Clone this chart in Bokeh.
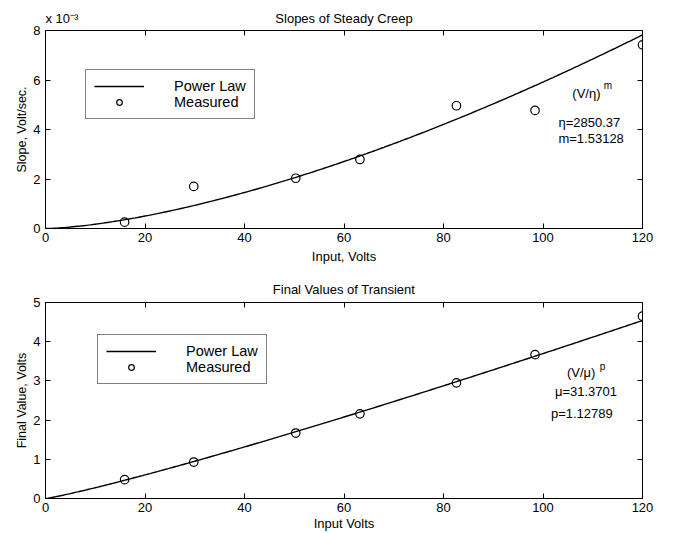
import numpy as np
from bokeh.plotting import figure
from bokeh.layouts import column
from bokeh.models import (Label, Legend, LegendItem, LinearAxis, FixedTicker,
                          CustomJSTickFormatter, Range1d)
from bokeh.embed import file_html
from bokeh.resources import INLINE

# ---- data -------------------------------------------------------------
input_volts = [15.9, 29.8, 50.3, 63.2, 82.6, 98.4, 120.0]
creep_slope = [0.255e-3, 1.70e-3, 2.03e-3, 2.79e-3, 4.96e-3, 4.77e-3, 7.42e-3]
final_value = [0.48, 0.93, 1.67, 2.16, 2.95, 3.67, 4.65]

# fitted power-law parameters
eta, m_exp = 2850.37, 1.53128
mu, p_exp = 31.3701, 1.12789

x_ticks = [0, 20, 40, 60, 80, 100, 120]
creep_ticks = [0, 2e-3, 4e-3, 6e-3, 8e-3]
final_ticks = [0, 1, 2, 3, 4, 5]

# header line of the upper panel: exponent note at the left, title centred
header_pos = [3.3, 60]
header_text = ["x 10\u207b\u00b3", "Slopes of Steady Creep"]

FONT = "Liberation Sans"
fit_v = np.linspace(0, 120, 241)


def style_axis(ax, labelled, standoff):
    ax.axis_line_color = "black"
    ax.major_tick_in = 5
    ax.major_tick_out = 0
    ax.major_tick_line_color = "black"
    ax.minor_tick_line_color = None
    ax.major_label_text_font = FONT
    ax.major_label_text_color = "black"
    ax.axis_label_text_font = FONT
    ax.axis_label_text_font_style = "normal"
    ax.axis_label_text_font_size = "13px"
    ax.axis_label_text_color = "black"
    if labelled:
        ax.major_label_text_font_size = "13px"
        ax.major_label_standoff = standoff
    else:
        # tick marks only: labels are not painted
        ax.major_label_text_font_size = "1px"
        ax.major_label_text_color = None
        ax.major_label_standoff = 0


def base_figure(height, top, bottom, y_max, y_ticks, title, xlabel, ylabel,
                tick_gap, label_gap):
    p = figure(width=675, height=height, output_backend="svg",
               toolbar_location=None, x_range=Range1d(0, 120),
               y_range=Range1d(0, y_max), x_axis_location=None,
               y_axis_location=None, min_border_left=45,
               min_border_right=33, min_border_top=top,
               min_border_bottom=bottom, title=title)
    if p.title is not None:
        p.title.text_font = FONT
        p.title.text_font_size = "13px"
        p.title.text_font_style = "normal"
        p.title.text_color = "black"
        p.title.align = "center"
        p.title.standoff = 11
    p.xgrid.visible = False
    p.ygrid.visible = False
    p.outline_line_color = "black"
    p.outline_line_width = 1
    p.background_fill_color = "white"
    p.border_fill_color = "white"

    bx = LinearAxis(ticker=FixedTicker(ticks=x_ticks), axis_label=xlabel)
    style_axis(bx, True, tick_gap)
    bx.axis_label_standoff = label_gap
    p.add_layout(bx, "below")
    tx = LinearAxis(ticker=FixedTicker(ticks=x_ticks))
    style_axis(tx, False, 0)
    p.add_layout(tx, "above")
    ly = LinearAxis(ticker=FixedTicker(ticks=y_ticks), axis_label=ylabel)
    style_axis(ly, True, 5)
    ly.axis_label_standoff = 1
    ly.axis_label_text_font_size = "12.5px"
    p.add_layout(ly, "left")
    ry = LinearAxis(ticker=FixedTicker(ticks=y_ticks))
    style_axis(ry, False, 0)
    p.add_layout(ry, "right")
    return p


def note(p, x, y, s, size="13px"):
    p.add_layout(Label(x=x, y=y, text=s, text_font=FONT,
                       text_font_size=size, text_color="black",
                       text_align="left", text_baseline="middle"))


def legend(p, fit_r, pts_r, loc):
    lg = Legend(items=[LegendItem(label="Power Law", renderers=[fit_r]),
                       LegendItem(label="Measured", renderers=[pts_r])],
                location=loc, label_text_font=FONT,
                label_text_font_size="14.5px", label_text_color="black",
                glyph_width=50, glyph_height=14, label_height=14,
                label_standoff=30, spacing=0, padding=8,
                border_line_color="black", border_line_width=1,
                background_fill_color="white", background_fill_alpha=1.0,
                margin=0)
    p.add_layout(lg, "center")


# ---- top: slopes of steady creep ----------------------------------------
p1 = base_figure(266, 30, 38, 8e-3, creep_ticks, None,
                 "Input, Volts", "Slope, Volt/sec.", 4, 4)
p1.left[0].formatter = CustomJSTickFormatter(code="return (tick*1000).toFixed(0);")

# header axis: carries the exponent note and the panel title, no tick marks
hdr = LinearAxis(ticker=FixedTicker(ticks=header_pos),
                 major_label_overrides=dict(zip(header_pos, header_text)))
style_axis(hdr, True, 5)
hdr.axis_line_color = None
hdr.major_tick_line_color = None
hdr.major_tick_in = 0
p1.add_layout(hdr, "above")

fit1 = p1.line(fit_v, (fit_v / eta) ** m_exp, line_color="black", line_width=1.4)
pts1 = p1.scatter(input_volts, creep_slope, marker="circle", size=8.5,
                  fill_color=None, line_color="black", line_width=1.2)
legend(p1, fit1, pts1, (40, 109))

note(p1, 105.9, 5.455e-3, "(V/η)")
note(p1, 112.2, 5.76e-3, "m", size="10px")
note(p1, 103.1, 4.295e-3, "η=2850.37")
note(p1, 103.1, 3.624e-3, "m=1.53128")

# ---- bottom: final values of transient ----------------------------------
p2 = base_figure(267, 36, 35, 5, final_ticks, "Final Values of Transient",
                 "Input Volts", "Final Value, Volts", 4, 1)
fit2 = p2.line(fit_v, (fit_v / mu) ** p_exp, line_color="black", line_width=1.4)
pts2 = p2.scatter(input_volts, final_value, marker="circle", size=8.5,
                  fill_color=None, line_color="black", line_width=1.2)
legend(p2, fit2, pts2, (52, 114))

note(p2, 104.8, 3.216, "(V/μ)")
note(p2, 111.4, 3.36, "p", size="10px")
note(p2, 102.4, 2.723, "μ=31.3701")
note(p2, 101.6, 2.157, "p=1.12789")

layout = column(p1, p2, spacing=0)
open("out.html", "w").write(file_html(layout, INLINE))
